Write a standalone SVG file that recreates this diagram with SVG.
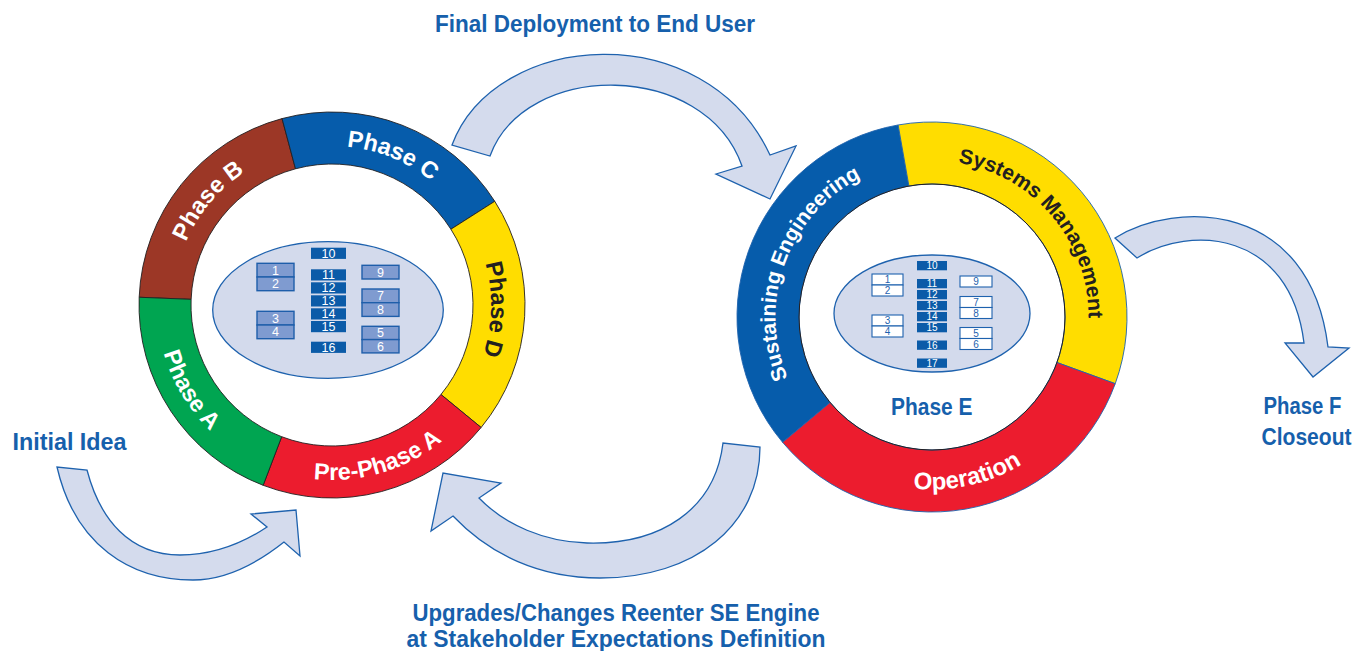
<svg xmlns="http://www.w3.org/2000/svg" width="1370" height="651" viewBox="0 0 1370 651">
<defs>
<style>
.lbl{font-family:"Liberation Sans",Arial,sans-serif;font-weight:bold;font-size:23px;fill:#1660AC}
.ring{font-family:"Liberation Sans",Arial,sans-serif;font-weight:bold;text-anchor:middle}
.arrow{fill:#D4DBED;stroke:#1E62AE;stroke-width:1.3;stroke-linejoin:miter}
.segL{stroke:#231F20;stroke-width:0.9}
.segR{stroke:#1E62AE;stroke-width:0.9}
.ell{fill:#D3DAEC;stroke:#1E62AE;stroke-width:1.3}
.dk{fill:#0B5BA8}
.lt{fill:#7F9BD0;stroke:#1E5EAA;stroke-width:1.4}
.wt{fill:#fff;stroke:#1E62AE;stroke-width:1.1}
.num{font-family:"Liberation Sans",Arial,sans-serif;font-size:12.5px;fill:#fff;text-anchor:middle}
.numR{font-family:"Liberation Sans",Arial,sans-serif;font-size:10px;fill:#fff;text-anchor:middle}
.numB{font-family:"Liberation Sans",Arial,sans-serif;font-size:10px;fill:#1E62AE;text-anchor:middle}
</style>
<path id="pB" d="M173,305 A159,159 0 0 1 304.39,148.42" fill="none"/>
<path id="pC" d="M282.87,153.78 A159,159 0 0 1 472.39,230.35" fill="none"/>
<path id="pD" d="M456.44,206.02 A159,159 0 0 1 451.08,410.36" fill="none"/>
<path id="pPA" d="M262.22,465.49 A175,175 0 0 0 477.93,401.59" fill="none"/>
<path id="pA" d="M159.15,277.62 A175,175 0 0 0 275.03,470.47" fill="none"/>
<path id="pSE" d="M812.11,417.60 A156.5,156.5 0 0 1 904.82,162.88" fill="none"/>
<path id="pSM" d="M904.82,162.88 A156.5,156.5 0 0 1 1079.06,370.53" fill="none"/>
<path id="pOp" d="M805.02,433.76 A172.5,172.5 0 0 0 1096.61,368.58" fill="none"/>
</defs>
<rect width="1370" height="651" fill="#fff"/>

<g id="connectors">
<path class="arrow" d="M452,145 C495,30 705,15 770,155 L796,146 L770,199 L716,174 L742,166 C705,60 525,60 490,156 Z"/>
<path class="arrow" d="M57,467 C75,545 130,580 193,580 C225,580 255,565 284,542 L300,556 L296,510 L251,514 L267,527 C240,545 210,555 180,555 C130,555 100,520 87,470 Z"/>
<path class="arrow" d="M723,443 C715,510 660,545 587,543 C545,542 505,525 479,498 L501,483 L443,473 L431,531 L453,516 C490,555 540,578 600,578 C695,578 760,525 760,447 Z"/>
<path class="arrow" d="M1115,238 C1175,200 1310,200 1328,347 L1349,348 L1313,377 L1285,343 L1304,343 C1290,230 1190,225 1137,258 Z"/>
</g>

<g id="phase-b">
<path class="segL" fill="#9C3726" d="M139.16,297.25 A193,193 0 0 1 282.05,118.58 L295.51,168.80 A141,141 0 0 0 191.11,299.34 Z"/>
<text class="ring" font-size="23.5" fill="#fff"><textPath href="#pB" startOffset="50%">Phase B</textPath></text>
</g>
<g id="phase-c">
<path class="segL" fill="#065CAB" d="M282.05,118.58 A193,193 0 0 1 494.77,201.30 L450.92,229.24 A141,141 0 0 0 295.51,168.80 Z"/>
<text class="ring" font-size="23.5" fill="#fff"><textPath href="#pC" startOffset="50%">Phase C</textPath></text>
</g>
<g id="phase-d">
<path class="segL" fill="#FFDD00" d="M494.77,201.30 A193,193 0 0 1 481.14,427.51 L440.95,394.50 A141,141 0 0 0 450.92,229.24 Z"/>
<text class="ring" font-size="23.5" fill="#231F20"><textPath href="#pD" startOffset="50%">Phase D</textPath></text>
</g>
<g id="pre-phase-a">
<path class="segL" fill="#EC1C2E" d="M481.14,427.51 A193,193 0 0 1 263.15,485.30 L281.70,436.72 A141,141 0 0 0 440.95,394.50 Z"/>
<text class="ring" font-size="23.5" fill="#fff"><textPath href="#pPA" startOffset="50%">Pre-Phase A</textPath></text>
</g>
<g id="phase-a">
<path class="segL" fill="#00A551" d="M263.15,485.30 A193,193 0 0 1 139.16,297.25 L191.11,299.34 A141,141 0 0 0 281.70,436.72 Z"/>
<text class="ring" font-size="23.5" fill="#fff"><textPath href="#pA" startOffset="50%">Phase A</textPath></text>
</g>

<g id="se-engine-left">
<ellipse class="ell" cx="328" cy="310" rx="115.3" ry="68.3"/>
<rect class="dk" x="311" y="247.7" width="35" height="11.2"/>
<rect class="dk" x="311" y="269.3" width="35" height="11.2"/>
<rect class="dk" x="311" y="282.3" width="35" height="11.2"/>
<rect class="dk" x="311" y="295.3" width="35" height="11.2"/>
<rect class="dk" x="311" y="308.3" width="35" height="11.2"/>
<rect class="dk" x="311" y="321" width="35" height="11.2"/>
<rect class="dk" x="311" y="341.7" width="35" height="11.2"/>
<text class="num" x="328.5" y="257.8">10</text>
<text class="num" x="328.5" y="279.4">11</text>
<text class="num" x="328.5" y="292.4">12</text>
<text class="num" x="328.5" y="305.4">13</text>
<text class="num" x="328.5" y="318.4">14</text>
<text class="num" x="328.5" y="331.1">15</text>
<text class="num" x="328.5" y="351.8">16</text>
<rect class="lt" x="257" y="263.3" width="37" height="13.7"/>
<rect class="lt" x="257" y="277" width="37" height="13.7"/>
<rect class="lt" x="257" y="311.3" width="37" height="13.7"/>
<rect class="lt" x="257" y="325" width="37" height="13.7"/>
<rect class="lt" x="362" y="265.3" width="37" height="13.7"/>
<rect class="lt" x="362" y="289" width="37" height="13.7"/>
<rect class="lt" x="362" y="302.7" width="37" height="13.7"/>
<rect class="lt" x="362" y="326.3" width="37" height="13.3"/>
<rect class="lt" x="362" y="339.6" width="37" height="13.3"/>
<text class="num" x="275.5" y="274.6">1</text>
<text class="num" x="275.5" y="288.3">2</text>
<text class="num" x="275.5" y="322.6">3</text>
<text class="num" x="275.5" y="336.3">4</text>
<text class="num" x="380.5" y="276.6">9</text>
<text class="num" x="380.5" y="300.3">7</text>
<text class="num" x="380.5" y="314">8</text>
<text class="num" x="380.5" y="337.4">5</text>
<text class="num" x="380.5" y="350.7">6</text>
</g>

<g id="sustaining-engineering">
<path class="segR" fill="#065CAB" d="M782.62,442.34 A195,195 0 0 1 898.14,124.96 L908.91,186.02 A133,133 0 0 0 830.12,402.49 Z"/>
<text class="ring" font-size="21" fill="#fff"><textPath href="#pSE" startOffset="50%">Sustaining Engineering</textPath></text>
</g>
<g id="systems-management">
<path class="segR" fill="#FFDD00" d="M898.14,124.96 A195,195 0 0 1 1115.24,383.69 L1056.98,362.49 A133,133 0 0 0 908.91,186.02 Z"/>
<text class="ring" font-size="21" fill="#231F20"><textPath href="#pSM" startOffset="50%">Systems Management</textPath></text>
</g>
<g id="operation">
<path class="segR" fill="#EC1C2E" d="M1115.24,383.69 A195,195 0 0 1 782.62,442.34 L830.12,402.49 A133,133 0 0 0 1056.98,362.49 Z"/>
<text class="ring" font-size="24" fill="#fff"><textPath href="#pOp" startOffset="50%">Operation</textPath></text>
</g>
<circle cx="932" cy="317" r="133" fill="none" stroke="#231F20" stroke-width="1"/>

<g id="se-engine-right">
<ellipse class="ell" cx="932" cy="313.5" rx="98" ry="58.5"/>
<rect class="dk" x="917" y="261" width="30" height="9.3"/>
<rect class="dk" x="917" y="279" width="30" height="9.3"/>
<rect class="dk" x="917" y="290" width="30" height="9.3"/>
<rect class="dk" x="917" y="301" width="30" height="9.3"/>
<rect class="dk" x="917" y="312" width="30" height="9.3"/>
<rect class="dk" x="917" y="323" width="30" height="9.3"/>
<rect class="dk" x="917" y="340.5" width="30" height="9.3"/>
<rect class="dk" x="917" y="358.5" width="30" height="9.3"/>
<text class="numR" x="932" y="269.3">10</text>
<text class="numR" x="932" y="287.3">11</text>
<text class="numR" x="932" y="298.3">12</text>
<text class="numR" x="932" y="309.3">13</text>
<text class="numR" x="932" y="320.3">14</text>
<text class="numR" x="932" y="331.3">15</text>
<text class="numR" x="932" y="348.8">16</text>
<text class="numR" x="932" y="366.8">17</text>
<rect class="wt" x="872" y="274" width="31" height="11"/>
<rect class="wt" x="872" y="285" width="31" height="11"/>
<rect class="wt" x="872" y="315" width="31" height="11"/>
<rect class="wt" x="872" y="326" width="31" height="11"/>
<rect class="wt" x="960" y="276" width="32" height="11"/>
<rect class="wt" x="960" y="296.5" width="32" height="11"/>
<rect class="wt" x="960" y="307.5" width="32" height="11"/>
<rect class="wt" x="960" y="327.5" width="32" height="11"/>
<rect class="wt" x="960" y="338.5" width="32" height="11"/>
<text class="numB" x="887.5" y="283.1">1</text>
<text class="numB" x="887.5" y="294.1">2</text>
<text class="numB" x="887.5" y="324.1">3</text>
<text class="numB" x="887.5" y="335.1">4</text>
<text class="numB" x="976" y="285.1">9</text>
<text class="numB" x="976" y="305.6">7</text>
<text class="numB" x="976" y="316.6">8</text>
<text class="numB" x="976" y="336.6">5</text>
<text class="numB" x="976" y="347.6">6</text>
</g>

<g id="labels">
<text class="lbl" x="435" y="31.5" textLength="320" lengthAdjust="spacingAndGlyphs">Final Deployment to End User</text>
<text class="lbl" x="12.5" y="450" textLength="114" lengthAdjust="spacingAndGlyphs">Initial Idea</text>
<text class="lbl" x="412.5" y="621" textLength="407" lengthAdjust="spacingAndGlyphs">Upgrades/Changes Reenter SE Engine</text>
<text class="lbl" x="406.5" y="647" textLength="419" lengthAdjust="spacingAndGlyphs">at Stakeholder Expectations Definition</text>
<text class="lbl" x="1263.5" y="414" textLength="78" lengthAdjust="spacingAndGlyphs">Phase F</text>
<text class="lbl" x="1261.5" y="445" textLength="90" lengthAdjust="spacingAndGlyphs">Closeout</text>
<text class="lbl" x="891" y="414.5" textLength="81.5" lengthAdjust="spacingAndGlyphs">Phase E</text>
</g>
</svg>
